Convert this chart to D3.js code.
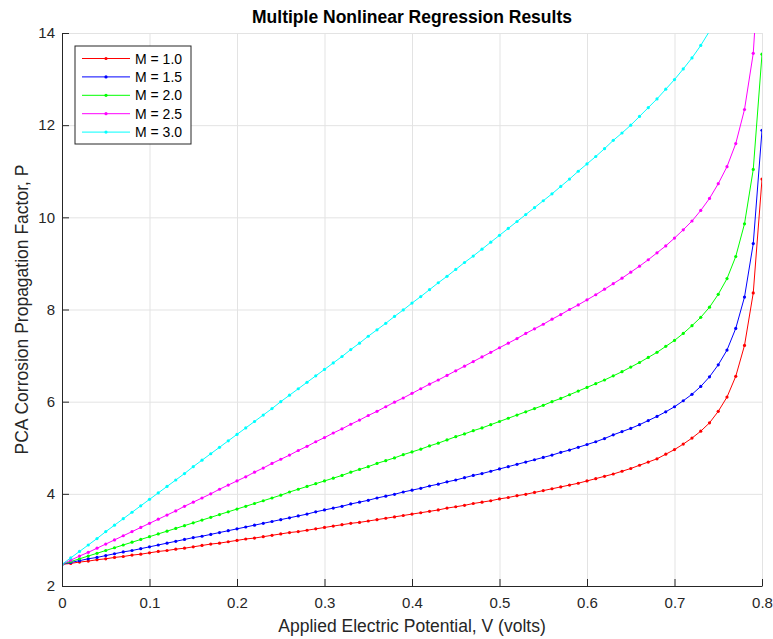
<!DOCTYPE html>
<html>
<head>
    <meta charset="utf-8">
    <title>Multiple Nonlinear Regression Results</title>
    <script src="https://d3js.org/d3.v7.min.js"></script>
    <style>
      body { margin: 0; background: #fff; }
      text { font-family: "Liberation Sans", Arial, Helvetica, sans-serif; }
      .grid line { stroke: #e3e3e3; stroke-width: 1; }
      .grid path { display: none; }
      .axis path, .axis line { stroke: #262626; }
      .axis text { fill: #262626; font-size: 15px; }
    </style>
</head>

<body>
<div id="chart"></div>
<script type="text/javascript">
    // applied potential V (volts), one point every 0.01
    let volts = [0.00, 0.01, 0.02, 0.03, 0.04, 0.05, 0.06, 0.07, 0.08, 0.09,
                 0.10, 0.11, 0.12, 0.13, 0.14, 0.15, 0.16, 0.17, 0.18, 0.19,
                 0.20, 0.21, 0.22, 0.23, 0.24, 0.25, 0.26, 0.27, 0.28, 0.29,
                 0.30, 0.31, 0.32, 0.33, 0.34, 0.35, 0.36, 0.37, 0.38, 0.39,
                 0.40, 0.41, 0.42, 0.43, 0.44, 0.45, 0.46, 0.47, 0.48, 0.49,
                 0.50, 0.51, 0.52, 0.53, 0.54, 0.55, 0.56, 0.57, 0.58, 0.59,
                 0.60, 0.61, 0.62, 0.63, 0.64, 0.65, 0.66, 0.67, 0.68, 0.69,
                 0.70, 0.71, 0.72, 0.73, 0.74, 0.75, 0.76, 0.77, 0.78, 0.79, 0.80];

    // P values
    let pM10 = [2.47, 2.49, 2.52, 2.54, 2.57, 2.59, 2.62, 2.64, 2.67, 2.69,
                2.72, 2.75, 2.77, 2.80, 2.82, 2.85, 2.88, 2.91, 2.93, 2.96,
                2.99, 3.02, 3.04, 3.07, 3.10, 3.13, 3.16, 3.18, 3.21, 3.24,
                3.27, 3.30, 3.33, 3.36, 3.38, 3.41, 3.44, 3.47, 3.50, 3.53,
                3.56, 3.59, 3.62, 3.65, 3.69, 3.72, 3.75, 3.79, 3.82, 3.85,
                3.89, 3.92, 3.96, 3.99, 4.03, 4.07, 4.11, 4.15, 4.19, 4.23,
                4.28, 4.33, 4.38, 4.43, 4.49, 4.55, 4.62, 4.69, 4.76, 4.86,
                4.96, 5.08, 5.21, 5.36, 5.54, 5.79, 6.10, 6.55, 7.22, 8.36, 10.83];

    let pM15 = [2.47, 2.51, 2.55, 2.59, 2.62, 2.66, 2.70, 2.74, 2.77, 2.81,
                2.85, 2.89, 2.93, 2.97, 3.01, 3.05, 3.08, 3.12, 3.16, 3.20,
                3.24, 3.28, 3.32, 3.36, 3.40, 3.44, 3.48, 3.52, 3.56, 3.61,
                3.65, 3.69, 3.73, 3.78, 3.82, 3.86, 3.91, 3.95, 3.99, 4.04,
                4.08, 4.12, 4.17, 4.21, 4.26, 4.30, 4.35, 4.40, 4.44, 4.49,
                4.54, 4.59, 4.64, 4.69, 4.74, 4.79, 4.84, 4.90, 4.95, 5.01,
                5.07, 5.13, 5.20, 5.28, 5.35, 5.42, 5.50, 5.59, 5.68, 5.78,
                5.89, 6.02, 6.16, 6.33, 6.54, 6.80, 7.12, 7.59, 8.27, 9.43, 11.89];

    let pM20 = [2.47, 2.53, 2.59, 2.65, 2.71, 2.77, 2.83, 2.89, 2.95, 3.01,
                3.07, 3.13, 3.19, 3.25, 3.31, 3.37, 3.43, 3.49, 3.55, 3.61,
                3.67, 3.73, 3.79, 3.85, 3.91, 3.97, 4.04, 4.10, 4.16, 4.22,
                4.28, 4.34, 4.40, 4.47, 4.53, 4.59, 4.66, 4.72, 4.78, 4.85,
                4.91, 4.97, 5.04, 5.10, 5.17, 5.24, 5.30, 5.37, 5.43, 5.50,
                5.57, 5.64, 5.71, 5.78, 5.85, 5.92, 6.00, 6.07, 6.15, 6.23,
                6.31, 6.39, 6.47, 6.56, 6.65, 6.75, 6.85, 6.96, 7.07, 7.20,
                7.33, 7.48, 7.65, 7.83, 8.05, 8.33, 8.67, 9.15, 9.86, 11.04, 13.54];

    let pM25 = [2.47, 2.56, 2.65, 2.73, 2.82, 2.91, 3.00, 3.09, 3.18, 3.27,
                3.36, 3.45, 3.54, 3.63, 3.73, 3.82, 3.91, 4.00, 4.10, 4.19,
                4.28, 4.37, 4.47, 4.56, 4.66, 4.75, 4.84, 4.94, 5.03, 5.13,
                5.22, 5.32, 5.41, 5.51, 5.60, 5.70, 5.79, 5.89, 5.99, 6.08,
                6.18, 6.28, 6.38, 6.47, 6.57, 6.67, 6.77, 6.87, 6.97, 7.07,
                7.17, 7.27, 7.37, 7.48, 7.58, 7.68, 7.79, 7.89, 8.00, 8.10,
                8.21, 8.32, 8.44, 8.56, 8.68, 8.81, 8.94, 9.08, 9.23, 9.38,
                9.55, 9.73, 9.92, 10.15, 10.41, 10.73, 11.10, 11.60, 12.34, 13.56, 16.50];

    let pM30 = [2.47, 2.61, 2.75, 2.89, 3.03, 3.18, 3.32, 3.46, 3.60, 3.74,
                3.88, 4.02, 4.16, 4.30, 4.44, 4.59, 4.73, 4.87, 5.01, 5.15,
                5.29, 5.43, 5.57, 5.71, 5.85, 6.00, 6.14, 6.28, 6.42, 6.56,
                6.70, 6.84, 6.98, 7.13, 7.27, 7.42, 7.56, 7.70, 7.85, 7.99,
                8.14, 8.28, 8.43, 8.58, 8.72, 8.87, 9.02, 9.16, 9.31, 9.46,
                9.61, 9.76, 9.91, 10.06, 10.21, 10.36, 10.51, 10.67, 10.83, 11.00,
                11.16, 11.32, 11.49, 11.67, 11.83, 12.00, 12.19, 12.38, 12.57, 12.78,
                12.99, 13.22, 13.46, 13.73, 14.04, 14.40, 14.84, 15.41, 16.21, 17.49, 20.08];

    let seriesNames = ["M = 1.0", "M = 1.5", "M = 2.0", "M = 2.5", "M = 3.0"];
    let seriesValues = [pM10, pM15, pM20, pM25, pM30];
    let seriesColors = ["#ff0000", "#0000ff", "#00ff00", "#ff00ff", "#00ffff"];

    let xTicks = [0, 0.1, 0.2, 0.3, 0.4, 0.5, 0.6, 0.7, 0.8];
    let yTicks = [2, 4, 6, 8, 10, 12, 14];

    let margin = {top: 33, right: 11, bottom: 53, left: 62};
    let w = 773 - margin.left - margin.right;
    let h = 639 - margin.top - margin.bottom;

    let root = d3.select("#chart")
            .append("svg")
                .attr("width", w + margin.left + margin.right)
                .attr("height", h + margin.top + margin.bottom);
    let svg = root.append("g")
                .attr("transform", "translate(" + margin.left + "," + margin.top + ")");

    let xScale = d3.scaleLinear().domain([0, 0.8]).range([0, w]);
    let yScale = d3.scaleLinear().domain([2, 14]).range([h, 0]);

    // grid
    svg.append("g")
        .attr("class", "grid")
        .attr("transform", "translate(0," + h + ")")
        .call(d3.axisBottom(xScale).tickValues(xTicks).tickSize(-h).tickFormat(""));
    svg.append("g")
        .attr("class", "grid")
        .call(d3.axisLeft(yScale).tickValues(yTicks).tickSize(-w).tickFormat(""));

    svg.append("clipPath")
        .attr("id", "plotclip")
      .append("rect")
        .attr("x", 0).attr("y", 0)
        .attr("width", w).attr("height", h);

    let plot = svg.append("g").attr("clip-path", "url(#plotclip)");

    let line = d3.line()
        .x((d, i) => xScale(volts[i]))
        .y(d => yScale(d));

    seriesValues.forEach((vals, k) => {
      plot.append("path")
          .datum(vals)
          .attr("fill", "none")
          .attr("stroke", seriesColors[k])
          .attr("stroke-width", 1)
          .attr("d", line);

      plot.selectAll(".dot" + k)
          .data(vals)
          .enter()
          .append("circle")
              .attr("class", "dot" + k)
              .attr("cx", (d, i) => xScale(volts[i]))
              .attr("cy", d => yScale(d))
              .attr("r", 1.6)
              .attr("fill", seriesColors[k]);
    });

    // axes (box off, ticks inward)
    svg.append("g")
        .attr("class", "axis")
        .attr("transform", "translate(0," + h + ")")
        .call(d3.axisBottom(xScale).tickValues(xTicks).tickSizeInner(-7).tickSizeOuter(0)
              .tickPadding(11).tickFormat(d => d === 0 ? "0" : d3.format(".1f")(d)));

    svg.append("g")
        .attr("class", "axis")
        .call(d3.axisLeft(yScale).tickValues(yTicks).tickSizeInner(-7).tickSizeOuter(0)
              .tickPadding(7));

    svg.selectAll(".axis text").attr("font-family", null);

    // title and labels
    svg.append("text")
        .attr("x", w / 2)
        .attr("y", -10)
        .style("text-anchor", "middle")
        .attr("font-size", "17.5px")
        .attr("font-weight", "bold")
        .attr("fill", "#000")
        .text("Multiple Nonlinear Regression Results");

    svg.append("text")
        .attr("x", w / 2)
        .attr("y", h + 46)
        .style("text-anchor", "middle")
        .attr("font-size", "17.5px")
        .attr("fill", "#262626")
        .text("Applied Electric Potential, V (volts)");

    svg.append("text")
        .attr("transform", "rotate(-90)")
        .attr("x", 0 - (h / 2))
        .attr("y", 0 - margin.left + 28)
        .style("text-anchor", "middle")
        .attr("font-size", "17.5px")
        .attr("fill", "#262626")
        .text("PCA Corrosion Propagation Factor, P");

    // legend
    let legend = svg.append("g").attr("transform", "translate(13,13)");
    legend.append("rect")
        .attr("width", 116)
        .attr("height", 98)
        .attr("fill", "#fff")
        .attr("stroke", "#262626")
        .attr("stroke-width", 1);

    seriesNames.forEach((name, k) => {
      let yy = 12.5 + k * 18.4;
      legend.append("line")
          .attr("x1", 7).attr("x2", 55)
          .attr("y1", yy).attr("y2", yy)
          .attr("stroke", seriesColors[k])
          .attr("stroke-width", 1);
      legend.append("circle")
          .attr("cx", 31).attr("cy", yy)
          .attr("r", 1.6)
          .attr("fill", seriesColors[k]);
      legend.append("text")
          .attr("x", 60)
          .attr("y", yy + 5)
          .attr("font-size", "14px")
          .attr("fill", "#000")
          .text(name);
    });
</script>
</body>
</html>
